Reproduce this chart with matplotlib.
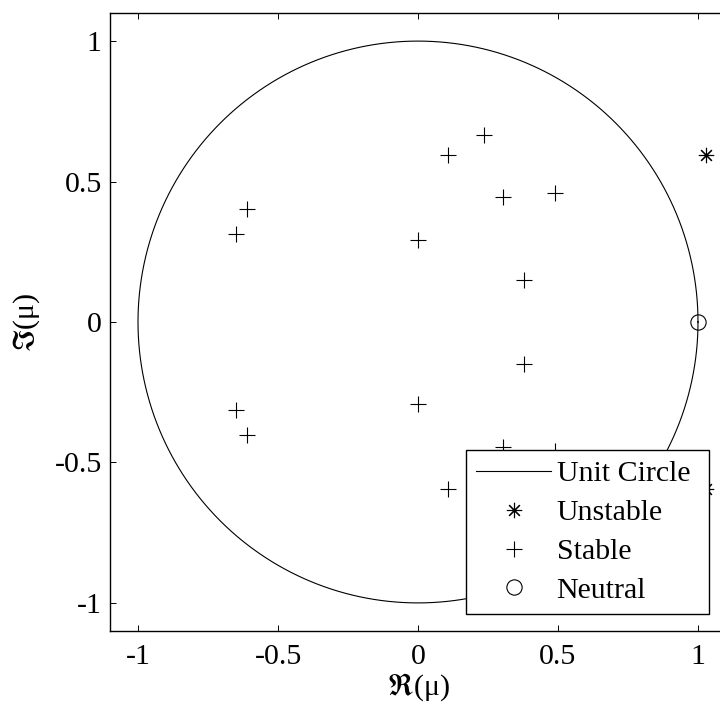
import numpy as np
import matplotlib
matplotlib.use("Agg")
import matplotlib.pyplot as plt

plt.rcParams["font.family"] = ["Liberation Serif", "DejaVu Serif"]
plt.rcParams["mathtext.fontset"] = "stix"
plt.rcParams["axes.unicode_minus"] = False

# Floquet multipliers (real / imaginary parts)
stable_re = [0.236, 0.108, 0.302, 0.489, -0.612, -0.650, 0.001, 0.380,
             0.236, 0.108, 0.302, 0.489, -0.612, -0.650, 0.001, 0.380]
stable_im = [0.665, 0.594, 0.446, 0.458, 0.401, 0.312, 0.292, 0.149,
             -0.665, -0.594, -0.446, -0.458, -0.401, -0.312, -0.292, -0.149]
unstable_re = [1.03, 1.03]
unstable_im = [0.595, -0.595]
neutral_re = [1.0]
neutral_im = [0.0]

tick_vals = [-1, -0.5, 0, 0.5, 1]
tick_labels = ["-1", "-0.5", "0", "0.5", "1"]

fig = plt.figure(figsize=(7.2, 7.02), dpi=100)
ax = fig.add_axes([110 / 720, (702 - 631) / 702, 616 / 720, 618 / 702])

theta = np.linspace(0, 2 * np.pi, 721)
ax.plot(np.cos(theta), np.sin(theta), color="black", lw=0.8, label="Unit Circle")
ax.plot(unstable_re, unstable_im, ls="none", marker=(8, 2, 0), ms=11,
        mec="black", mew=0.8, label="Unstable")
ax.plot(stable_re, stable_im, ls="none", marker="+", ms=11,
        mec="black", mew=0.8, label="Stable")
ax.plot(neutral_re, neutral_im, ls="none", marker="o", ms=11,
        mfc="none", mec="black", mew=0.8, label="Neutral")

ax.set_xlim(-1.1, 1.1)
ax.set_ylim(-1.1, 1.1)
ax.set_xticks(tick_vals)
ax.set_xticklabels(tick_labels)
ax.set_yticks(tick_vals)
ax.set_yticklabels(tick_labels)
ax.tick_params(direction="in", top=True, right=True, length=4.5, width=0.7,
               labelsize=21.5, colors="black")
ax.tick_params(axis="x", pad=9)
ax.tick_params(axis="y", pad=6)
for sp in ax.spines.values():
    sp.set_linewidth(1.0)

ax.set_xlabel(r"$\Re$(μ)", fontsize=21.5, labelpad=1.5)
ax.set_ylabel(r"$\Im$(μ)", fontsize=21.5, labelpad=9)

leg = ax.legend(loc="upper left", bbox_to_anchor=(0.578, 0.293, 0.394, 0.0),
                mode="expand", borderaxespad=0, fontsize=21.5, fancybox=False,
                edgecolor="black", framealpha=1, handlelength=2.5,
                handletextpad=0.18, borderpad=0.35, labelspacing=0.4)
leg.get_frame().set_linewidth(1.0)

fig.savefig("out.png", dpi=100)
